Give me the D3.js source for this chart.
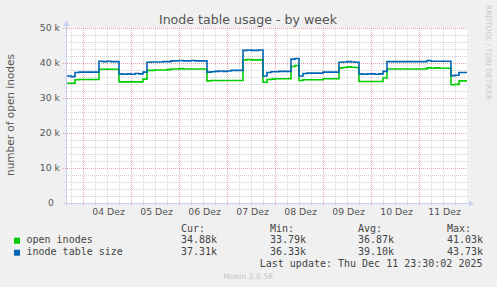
<!DOCTYPE html>
<html lang="de">
<head>
  <meta charset="UTF-8">
  <title>Inode table usage - by week</title>
  <style>
    body { margin: 0; background: #f0f0f0; }
    svg { display: block; font-family: "DejaVu Sans", sans-serif; }
    .mono { font-family: "DejaVu Sans Mono", monospace; font-size: 10px; fill: #444; white-space: pre; }
  </style>
  <script src="https://cdn.jsdelivr.net/npm/d3@7"></script>
</head>
<body>
<svg id="chart" width="497" height="287"></svg>
<script>
// 2-hour samples starting 03 Dez 16:00 (values in thousands)
var openInodes = [
  34.2, 34.2, 35.2, 35.3, 35.3, 35.3, 35.3, 35.3, 38.2, 38.2,
  38.2, 38.2, 38.2, 34.6, 34.6, 34.6, 34.6, 34.6, 34.6, 35.4,
  37.9, 37.9, 38.0, 38.0, 38.0, 38.1, 38.3, 38.3, 38.4, 38.3,
  38.3, 38.3, 38.3, 38.3, 38.3, 34.9, 35.0, 35.0, 35.0, 35.0,
  35.0, 35.0, 35.0, 35.0, 40.9, 41.0, 40.9, 40.9, 40.9, 34.5,
  35.3, 35.4, 35.5, 35.5, 35.5, 35.5, 39.0, 39.3, 35.0, 35.2,
  35.2, 35.2, 35.2, 35.2, 35.5, 35.5, 35.5, 35.5, 38.6, 38.7,
  38.9, 38.8, 38.7, 34.7, 34.7, 34.7, 34.7, 34.7, 34.7, 35.7,
  38.3, 38.3, 38.3, 38.3, 38.3, 38.3, 38.3, 38.3, 38.3, 38.3,
  38.6, 38.5, 38.6, 38.5, 38.5, 38.5, 33.8, 33.9, 34.9, 34.9
];
var tableSize = [
  36.3, 36.1, 37.3, 37.4, 37.4, 37.4, 37.4, 37.4, 40.5, 40.4,
  40.5, 40.4, 40.4, 36.9, 36.8, 36.9, 36.8, 37.0, 36.9, 37.4,
  40.2, 40.3, 40.3, 40.3, 40.4, 40.4, 40.6, 40.6, 40.7, 40.6,
  40.6, 40.7, 40.6, 40.6, 40.6, 37.4, 37.5, 37.6, 37.7, 37.6,
  37.7, 37.9, 37.9, 37.9, 43.6, 43.7, 43.6, 43.6, 43.7, 36.3,
  37.3, 37.5, 37.5, 37.6, 37.6, 37.6, 41.1, 41.3, 36.3, 37.0,
  37.1, 37.1, 37.1, 37.1, 37.4, 37.4, 37.4, 37.4, 40.2, 40.3,
  40.4, 40.3, 40.2, 36.9, 36.8, 36.9, 36.9, 36.8, 36.9, 37.6,
  40.4, 40.4, 40.4, 40.4, 40.4, 40.4, 40.4, 40.4, 40.4, 40.4,
  40.7, 40.5, 40.5, 40.5, 40.5, 40.5, 36.4, 36.5, 37.3, 37.3
];
var dayLabels = ["04 Dez", "05 Dez", "06 Dez", "07 Dez", "08 Dez", "09 Dez", "10 Dez", "11 Dez"];
var yTicks = [0, 10000, 20000, 30000, 40000, 50000];

var seriesNames = ["open inodes", "inode table size"];
var seriesColors = ["#00cc00", "#0066b3"];
var curValues = ["34.88k", "37.31k"];
var minValues = ["33.79k", "36.33k"];
var avgValues = ["36.87k", "39.10k"];
var maxValues = ["41.03k", "43.73k"];

var start = new Date(2025, 11, 3, 16, 0);
var end = new Date(2025, 11, 12, 0, 0);
var step = 2 * 3600 * 1000;

var svg = d3.select("#chart");
var x = d3.scaleTime().domain([start, end]).range([67, 467]);
var y = d3.scaleLinear().domain([0, 50000]).range([203, 28]);

// plot area
svg.append("rect").attr("x", 67).attr("y", 28).attr("width", 400).attr("height", 175).attr("fill", "#fff");

// horizontal grid
var minorY = d3.range(2000, 50001, 2000).filter(function(d) { return d % 10000 !== 0; });
svg.append("g").selectAll("line").data(minorY).enter().append("line")
  .attr("x1", 64).attr("x2", 467)
  .attr("y1", function(d) { return y(d) + 0.5; }).attr("y2", function(d) { return y(d) + 0.5; })
  .attr("stroke", "#d2d2d2").attr("stroke-dasharray", "1,1");

// vertical grid
var minorX = d3.timeHour.every(6).range(start, end).filter(function(d) { return d.getHours() !== 0; });
svg.append("g").selectAll("line").data(minorX).enter().append("line")
  .attr("x1", function(d) { return Math.round(x(d)) + 0.5; }).attr("x2", function(d) { return Math.round(x(d)) + 0.5; })
  .attr("y1", 28).attr("y2", 205)
  .attr("stroke", "#d2d2d2").attr("stroke-dasharray", "1,1");

var majorX = d3.timeDay.range(start, end);
svg.append("g").selectAll("line").data(majorX).enter().append("line")
  .attr("x1", function(d) { return Math.round(x(d)) + 0.5; }).attr("x2", function(d) { return Math.round(x(d)) + 0.5; })
  .attr("y1", 28).attr("y2", 206)
  .attr("stroke", "#e2a4a4").attr("stroke-dasharray", "1,1");

svg.append("g").selectAll("line").data(yTicks.slice(1)).enter().append("line")
  .attr("x1", 63).attr("x2", 467)
  .attr("y1", function(d) { return y(d) + 0.5; }).attr("y2", function(d) { return y(d) + 0.5; })
  .attr("stroke", "#e2a4a4").attr("stroke-dasharray", "1,1");

// axes lines + arrows
svg.append("line").attr("x1", 66.5).attr("x2", 66.5).attr("y1", 206).attr("y2", 23).attr("stroke", "#c8cff2");
svg.append("line").attr("x1", 63).attr("x2", 470).attr("y1", 203.5).attr("y2", 203.5).attr("stroke", "#c8cff2");
svg.append("path").attr("d", "M63.5,26L69.5,26L66.5,20Z").attr("fill", "#c8cff2");
svg.append("path").attr("d", "M469,200.5L469,206.5L474,203.5Z").attr("fill", "#c8cff2");

// y labels
var yAxis = d3.axisLeft(y).tickValues(yTicks).tickSize(0).tickPadding(0)
  .tickFormat(function(d) { return d === 0 ? "0" : (d / 1000) + " k"; });
var gy = svg.append("g").attr("transform", "translate(60,0)").call(yAxis);
gy.select(".domain").remove();
gy.selectAll("text").attr("font-size", "9.3px").attr("fill", "#555").attr("font-family", "DejaVu Sans")
  .attr("dx", function(d) { return d === 0 ? -6 : 0; });

// x labels (centred on midday)
var noons = majorX.map(function(d) { return d3.timeHour.offset(d, 12); });
var xAxis = d3.axisBottom(x).tickValues(noons).tickSize(0).tickPadding(0)
  .tickFormat(function(d, i) { return dayLabels[i]; });
var gx = svg.append("g").attr("transform", "translate(1,208)").call(xAxis);
gx.select(".domain").remove();
gx.selectAll("text").attr("font-size", "9.3px").attr("fill", "#555").attr("font-family", "DejaVu Sans");

// lines
function points(vals) {
  var p = vals.map(function(v, i) { return [new Date(start.getTime() + i * step), v * 1000]; });
  p.push([end, vals[vals.length - 1] * 1000]);
  return p;
}
var line = d3.line().curve(d3.curveStepAfter)
  .x(function(d) { return x(d[0]); }).y(function(d) { return y(d[1]); });
[openInodes, tableSize].forEach(function(vals, i) {
  svg.append("path").attr("d", line(points(vals)))
    .attr("fill", "none").attr("stroke", seriesColors[i]).attr("stroke-width", 1.6);
});

// title and labels
svg.append("text").attr("x", 248).attr("y", 23.5).attr("text-anchor", "middle")
  .attr("font-size", "12.6px").attr("fill", "#555").text("Inode table usage - by week");
svg.append("text").attr("transform", "translate(14,115) rotate(-90)").attr("text-anchor", "middle")
  .attr("font-size", "10.5px").attr("fill", "#555").text("number of open inodes");
svg.append("text").attr("transform", "translate(485.5,5) rotate(90)")
  .attr("font-size", "7.4px").attr("fill", "#c8c8c8").text("RRDTOOL / TOBI OETIKER");

// legend
var cols = [181, 270, 358, 447];
["Cur:", "Min:", "Avg:", "Max:"].forEach(function(h, i) {
  svg.append("text").attr("class", "mono").attr("x", cols[i]).attr("y", 231.5).text(h);
});
seriesNames.forEach(function(name, i) {
  var by = 242.7 + i * 12;
  svg.append("rect").attr("x", 14).attr("y", by - 5).attr("width", 6).attr("height", 6).attr("fill", seriesColors[i]);
  svg.append("text").attr("class", "mono").attr("x", 26.5).attr("y", by).text(name);
  [curValues, minValues, avgValues, maxValues].forEach(function(arr, j) {
    svg.append("text").attr("class", "mono").attr("x", cols[j]).attr("y", by).text(arr[i]);
  });
});
svg.append("text").attr("class", "mono").attr("x", 482.5).attr("y", 266.7).attr("text-anchor", "end")
  .text("Last update: Thu Dec 11 23:30:02 2025");
svg.append("text").attr("x", 248).attr("y", 279).attr("text-anchor", "middle")
  .attr("font-size", "7.6px").attr("fill", "#c4c4c4").text("Munin 2.0.56");
</script>
</body>
</html>
